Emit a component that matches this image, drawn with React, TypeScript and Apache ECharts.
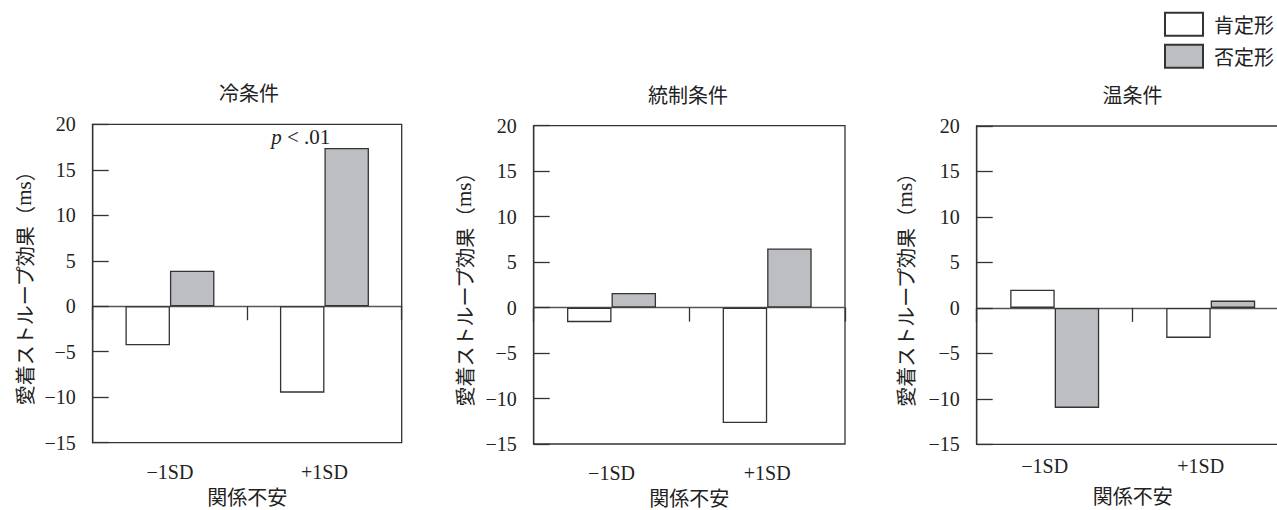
import React, { useEffect, useRef } from 'react';
import * as echarts from 'echarts';

const categories = ['−1SD', '+1SD'];
const panelTitles = ['冷条件', '統制条件', '温条件'];
const seriesNames = ['肯定形', '否定形'];
const affirmValues = [
  [-4.3, -9.5],
  [-1.6, -12.7],
  [2.0, -3.3],
];
const negValues = [
  [3.9, 17.4],
  [1.6, 6.5],
  [-11.0, 0.8],
];
const yMin = -15;
const yMax = 20;
const yInterval = 5;
const yAxisName = '愛着ストループ効果{s|（}{m|ms}{s|）}';
const xAxisName = '関係不安';
const annotation = { panel: 0, category: 1, text: '{i|p} < .01' };

const layouts = [
  { left: 92.7, top: 124.3, width: 309, height: 318.4, titleX: 249, titleY: 82, labelMargin: 19, nameGap: 42, yNameGap: 58, labelPad: [0, 0, 0, 0] },
  { left: 533.7, top: 125.7, width: 311.3, height: 318.3, titleX: 688, titleY: 84, labelMargin: 19, nameGap: 41, yNameGap: 59, labelPad: [0, 0, 0, 0] },
  { left: 976.7, top: 126, width: 312, height: 318.3, titleX: 1132.5, titleY: 84, labelMargin: 12, nameGap: 41, yNameGap: 61, labelPad: [0, 20, 0, 0] },
];

const SERIF = "'Liberation Serif', 'Times New Roman', serif";
const CJK = "'Noto Sans CJK JP', 'Noto Sans', sans-serif";
const TEXT = '#222';
const LINE = '#333';
const GRAY = '#bdbec1';

function fmtNum(v: number) {
  return v < 0 ? '−' + Math.abs(v) : String(v);
}

export default function App() {
  const ref = useRef<HTMLDivElement>(null);
  useEffect(() => {
    document.body.style.margin = '0';
    if (!ref.current) return;
    const chart = echarts.init(ref.current, undefined, { renderer: 'svg' });

    const grid: any[] = [];
    const xAxis: any[] = [];
    const yAxis: any[] = [];
    const series: any[] = [];
    const title: any[] = [];

    const serifLabel = { fontFamily: SERIF, fontSize: 20, color: TEXT, fontWeight: 'normal' };

    layouts.forEach((L, i) => {
      grid.push({
        left: L.left, top: L.top, width: L.width, height: L.height,
        containLabel: false, outerBoundsMode: 'none',
        show: true, borderColor: LINE, borderWidth: 1.3, backgroundColor: 'transparent',
      });
      title.push({
        text: panelTitles[i], left: L.titleX, top: L.titleY, textAlign: 'center', padding: 0,
        textStyle: { fontFamily: CJK, fontSize: 20, fontWeight: 'normal', color: TEXT },
      });
      xAxis.push({
        type: 'category', gridIndex: i, data: categories, position: 'bottom',
        axisLine: { show: false, onZero: false }, axisTick: { show: false },
        axisLabel: {
          ...serifLabel, margin: L.labelMargin, padding: L.labelPad,
          formatter: (v: string) => '{n|' + v + '}',
          rich: { n: { ...serifLabel } },
        },
        name: xAxisName, nameLocation: 'middle', nameGap: L.nameGap,
        nameTextStyle: { fontFamily: CJK, fontSize: 20, lineHeight: 20, color: TEXT },
        splitLine: { show: false },
      });
      xAxis.push({
        type: 'category', gridIndex: i, data: categories, position: 'top',
        axisLine: { show: true, onZero: true, lineStyle: { color: '#555', width: 1.3 } },
        axisTick: { show: true, inside: true, length: 14, alignWithLabel: false, lineStyle: { color: LINE, width: 1.3 } },
        axisLabel: { show: false },
        splitLine: { show: false },
      });
      yAxis.push({
        type: 'value', gridIndex: i, min: yMin, max: yMax, interval: yInterval,
        axisLine: { show: true, lineStyle: { color: LINE, width: 1.3 } },
        axisTick: { show: true, inside: true, length: 16, lineStyle: { color: LINE, width: 1.3 } },
        axisLabel: {
          ...serifLabel, margin: 17,
          formatter: (v: number) => '{n|' + fmtNum(v) + '}',
          rich: { n: { ...serifLabel } },
        },
        splitLine: { show: false },
        name: yAxisName, nameLocation: 'middle', nameRotate: 90, nameGap: L.yNameGap,
        nameTextStyle: {
          fontFamily: CJK, fontSize: 20, color: TEXT,
          rich: {
            s: { fontFamily: CJK, fontSize: 20, color: TEXT },
            m: { fontFamily: SERIF, fontSize: 21, color: TEXT },
          },
        },
      });
      const affirmData: any[] = affirmValues[i].map((v) => v);
      const negData: any[] = negValues[i].map((v, j) => {
        if (annotation.panel === i && annotation.category === j) {
          return {
            value: v,
            label: {
              show: true, position: 'top', distance: 0, offset: [-46, 0],
              formatter: annotation.text,
              fontFamily: SERIF, fontSize: 21, color: TEXT,
              rich: { i: { fontFamily: SERIF, fontSize: 21, fontStyle: 'italic', color: TEXT } },
            },
          };
        }
        return v;
      });
      series.push({
        type: 'bar', name: seriesNames[0], xAxisIndex: i * 2, yAxisIndex: i,
        data: affirmData, barWidth: 44.5, barGap: '0%',
        itemStyle: { color: '#ffffff', borderColor: LINE, borderWidth: 1.3 },
      });
      series.push({
        type: 'bar', name: seriesNames[1], xAxisIndex: i * 2, yAxisIndex: i,
        data: negData, barWidth: 44.5, barGap: '0%',
        itemStyle: { color: GRAY, borderColor: LINE, borderWidth: 1.3 },
      });
    });

    chart.setOption({
      animation: false,
      backgroundColor: '#ffffff',
      textStyle: { fontFamily: SERIF },
      title,
      grid,
      xAxis,
      yAxis,
      series,
      legend: {
        data: seriesNames, orient: 'vertical', left: 1164, top: 11.7,
        itemWidth: 38, itemHeight: 23, itemGap: 7, padding: 0, icon: 'rect',
        textStyle: { fontFamily: CJK, fontSize: 20, color: TEXT, padding: [0, 0, 0, 6] },
      },
    });
    return () => chart.dispose();
  }, []);
  return <div ref={ref} style={{ width: 1277, height: 510 }} />;
}
